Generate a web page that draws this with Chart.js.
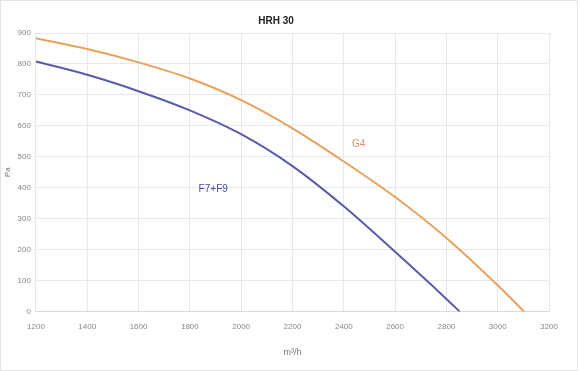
<!DOCTYPE html>
<html>
<head>
<meta charset="utf-8">
<script src="https://cdn.jsdelivr.net/npm/chart.js"></script>
<style>
    html, body { margin: 0; padding: 0; background: #fff; }
    #wrap { position: relative; width: 578px; height: 371px; box-sizing: border-box; border: 1px solid #e4e4e4; }
</style>
</head>
<body>
<div id="wrap"><canvas id="chartCanvas" width="576" height="369"></canvas></div>
<script>
// Kennlinien HRH 30
const chartTitle = 'HRH 30';
const xAxisTitle = 'm³/h';
const yAxisTitle = 'Pa';

const flowG4 = [1200, 1400, 1600, 1800, 2000, 2200, 2400, 2600, 2800, 3000, 3103];
const pressureG4 = [883, 848, 805, 753, 683, 592, 485, 370, 238, 85, 0];

const flowF7F9 = [1200, 1400, 1600, 1800, 2000, 2200, 2400, 2600, 2800, 2852];
const pressureF7F9 = [808, 765, 712, 650, 573, 470, 340, 193, 41, 0];

// Beschriftungen an den Kurven (Datenkoordinaten)
const curveLabels = ['G4', 'F7+F9'];
const curveLabelX = [2458, 1891];
const curveLabelY = [539, 394];
const curveColors = ['#e8a25c', '#5a5aa8'];
const curveLabelColors = ['#e0915a', '#4a4ab0'];

const toPoints = (xs, ys) => xs.map((x, i) => ({ x: x, y: ys[i] }));

// Text direkt in den Chart schreiben
const curveLabelPlugin = {
    id: 'curveLabels',
    afterDatasetsDraw(chart) {
        const ctx = chart.ctx;
        const xs = chart.scales.x;
        const ys = chart.scales.y;
        ctx.save();
        ctx.font = '10px "Liberation Sans", Arial, sans-serif';
        ctx.textAlign = 'center';
        ctx.textBaseline = 'middle';
        curveLabels.forEach((txt, i) => {
            ctx.fillStyle = curveLabelColors[i];
            ctx.fillText(txt, xs.getPixelForValue(curveLabelX[i]), ys.getPixelForValue(curveLabelY[i]));
        });
        ctx.restore();
    }
};

const tickFont = { family: '"Liberation Sans", Arial, sans-serif', size: 8 };

const ctx = document.getElementById('chartCanvas').getContext('2d');
new Chart(ctx, {
    type: 'line',
    data: {
        datasets: [
            {
                label: 'G4',
                data: toPoints(flowG4, pressureG4),
                borderColor: curveColors[0],
                borderWidth: 2,
                pointRadius: 0,
                cubicInterpolationMode: 'monotone',
                fill: false
            },
            {
                label: 'F7+F9',
                data: toPoints(flowF7F9, pressureF7F9),
                borderColor: curveColors[1],
                borderWidth: 2,
                pointRadius: 0,
                cubicInterpolationMode: 'monotone',
                fill: false
            }
        ]
    },
    options: {
        responsive: false,
        animation: false,
        layout: { padding: { left: 2, right: 28, top: 8, bottom: 8 } },
        plugins: {
            legend: { display: false },
            tooltip: { enabled: false },
            title: {
                display: true,
                text: chartTitle,
                color: '#222',
                font: { family: '"Liberation Sans", Arial, sans-serif', size: 10, weight: 'bold' },
                padding: { top: 6, bottom: 6 }
            }
        },
        scales: {
            x: {
                type: 'linear',
                min: 1200,
                max: 3200,
                ticks: {
                    stepSize: 200,
                    color: '#888',
                    font: tickFont,
                    padding: 10,
                    callback: v => String(v)
                },
                grid: { color: '#e8e8e8', drawTicks: false },
                border: { color: '#d8d8d8' },
                title: {
                    display: true,
                    text: xAxisTitle,
                    color: '#777',
                    font: { family: '"Liberation Sans", Arial, sans-serif', size: 9 },
                    padding: { top: 6 }
                }
            },
            y: {
                min: 0,
                max: 900,
                ticks: {
                    stepSize: 100,
                    color: '#888',
                    font: tickFont,
                    padding: 5,
                    callback: v => String(v)
                },
                grid: { color: '#e8e8e8', drawTicks: false },
                border: { display: false },
                title: {
                    display: true,
                    text: yAxisTitle,
                    color: '#777',
                    font: { family: '"Liberation Sans", Arial, sans-serif', size: 8 },
                    padding: { top: 0, bottom: 0 }
                }
            }
        }
    },
    plugins: [curveLabelPlugin]
});
</script>
</body>
</html>
